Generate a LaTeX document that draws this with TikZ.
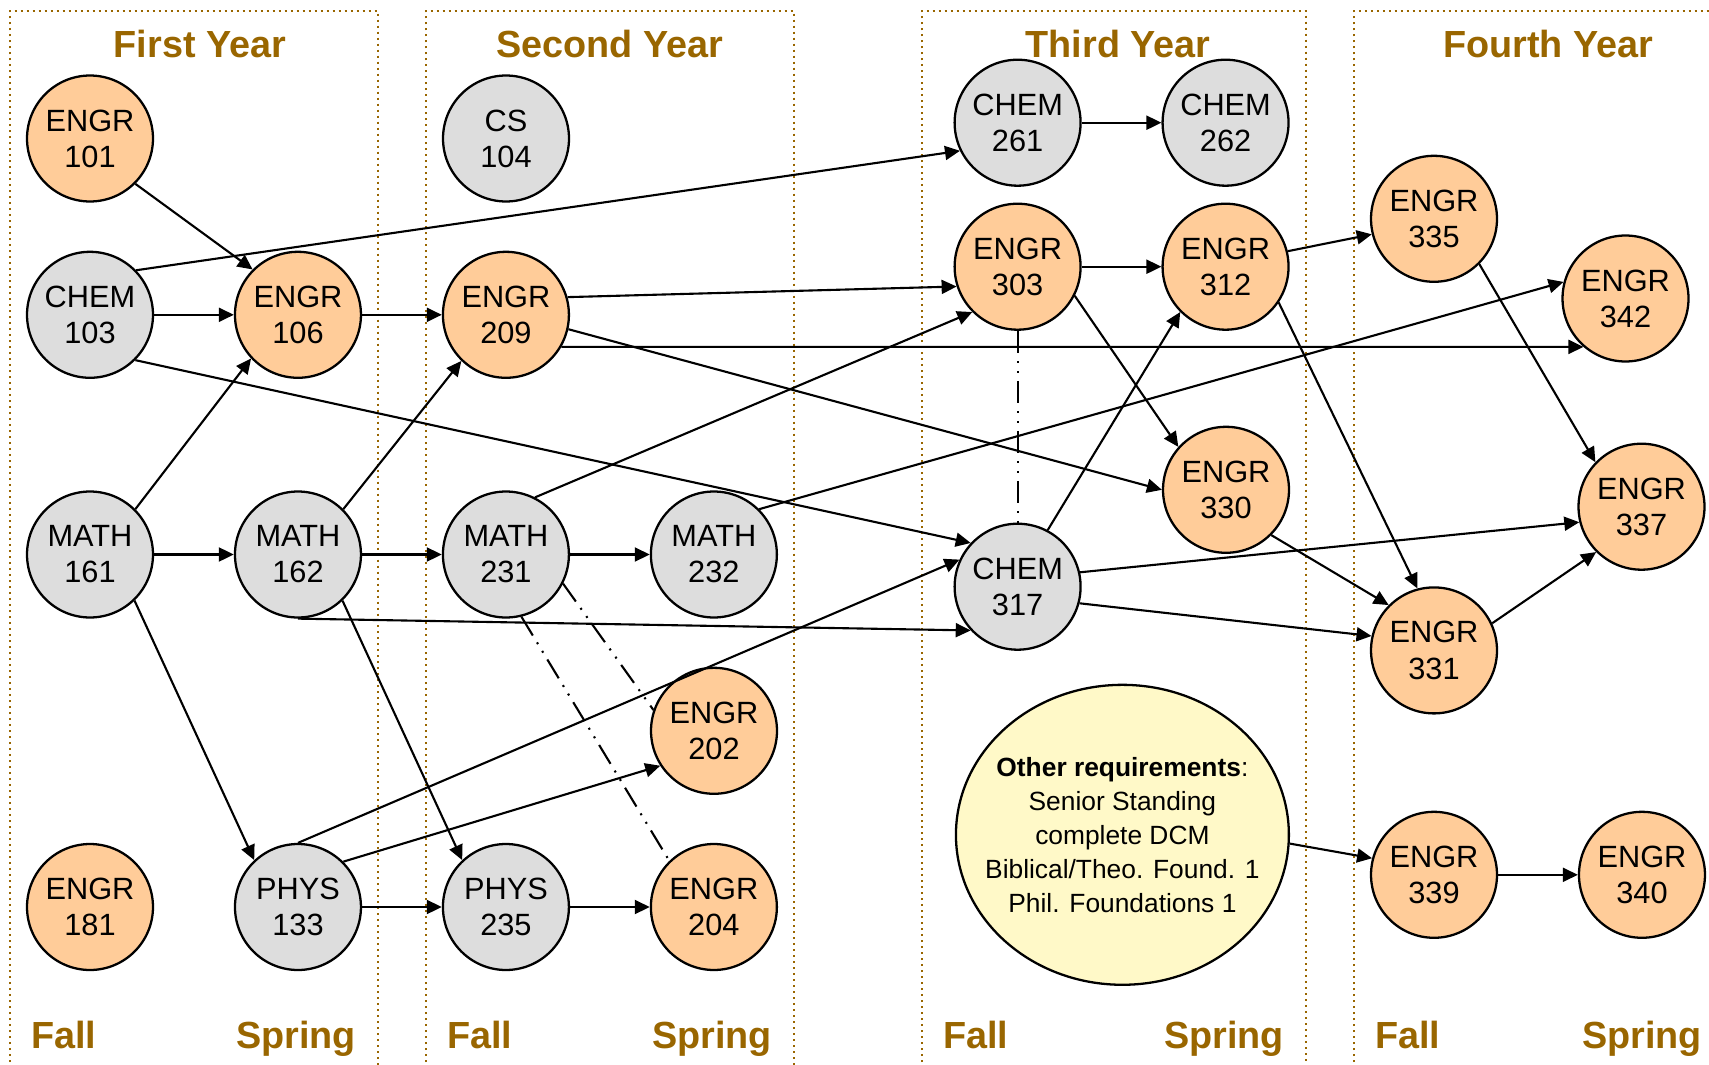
\documentclass[tikz,border=0pt]{standalone}
\usepackage{fontspec}
\setmainfont{Liberation Sans}
\usetikzlibrary{arrows.meta, shapes.geometric, backgrounds}
\definecolor{course orange}{HTML}{FFCC99}
\definecolor{course grey}{HTML}{DDDDDD}
\definecolor{note yellow}{HTML}{FFF9C8}
\definecolor{year brown}{HTML}{996600}
\tikzset{
    % node styles
    course/.style = {circle, minimum size=2.52cm, inner sep=0pt, line width=1.3pt, draw=black, fill=course orange, align=center, font=\fontsize{17.5}{20.5}\selectfont},
    grey course/.style = {course, fill=course grey},
    note/.style = {ellipse, minimum width=6.66cm, minimum height=6cm, inner xsep=-0.6cm, inner ysep=0pt, line width=1.3pt, draw=black, fill=note yellow, align=center, font=\fontsize{15}{19.4}\selectfont},
    % arrow style
    pre/.style = {<-, line width=1.2pt, >={Triangle[length=0.3cm, width=0.28cm]}},
    post/.style = {->, line width=1.2pt, >={Triangle[length=0.3cm, width=0.28cm]}},
    link/.style = {line width=1.2pt, dash pattern=on 0.44cm off 0.16cm on 0.04cm off 0.16cm on 0.04cm off 0.16cm},
    % label style
    year/.style = {text=year brown, font=\fontsize{21.5}{26}\selectfont\bfseries},
    year box/.style = {draw=year brown, line width=0.04cm, dash pattern=on 0.04cm off 0.08cm}
}

\begin{document}
\begin{tikzpicture}[x=0.02cm, y=-0.02cm, node distance=4.16cm]
        \useasboundingbox (0,0) rectangle (1709,1064);

        % first and second year
        \node[course] (engr101) at (90,138.5) {ENGR\\101};
        \node[grey course] (cs104) at (506,138.5) {CS\\104};
        \node[grey course] (chem103) at (90,314.8) {CHEM\\103};
        \node[course] (engr106) [right of=chem103] {ENGR\\106}
            edge[pre] (chem103);
        \node[course] (engr209) [right of=engr106] {ENGR\\209}
            edge[pre] (engr106);
        \node[grey course] (math161) at (90,554.5) {MATH\\161};
        \node[grey course] (math162) [right of=math161] {MATH\\162}
            edge[pre] (math161);
        \node[grey course] (math231) [right of=math162] {MATH\\231}
            edge[pre] (math162);
        \node[grey course] (math232) [right of=math231] {MATH\\232}
            edge[pre] (math231);
        \node[course] (engr202) at (714,730.8) {ENGR\\202};
        \node[course] (engr181) at (90,907) {ENGR\\181};
        \node[grey course] (phys133) [right of=engr181] {PHYS\\133};
        \node[grey course] (phys235) [right of=phys133] {PHYS\\235}
            edge[pre] (phys133);
        \node[course] (engr204) [right of=phys235] {ENGR\\204}
            edge[pre] (phys235);

        % third year
        \node[grey course] (chem261) at (1017.6,122.7) {CHEM\\261};
        \node[grey course] (chem262) [right of=chem261] {CHEM\\262}
            edge[pre] (chem261);
        \node[course] (engr303) at (1017.6,266.7) {ENGR\\303};
        \node[course] (engr312) [right of=engr303] {ENGR\\312}
            edge[pre] (engr303);
        \node[course] (engr330) at (1226,489.8) {ENGR\\330};
        \node[grey course] (chem317) at (1017.6,586.7) {CHEM\\317};
        \node[note] (other) at (1122.4,834.8) {\textbf{Other requirements}:\\Senior Standing\\complete DCM\\Biblical/Theo. Found. 1\\Phil. Foundations 1};

        % fourth year
        \node[course] (engr335) at (1434,218.8) {ENGR\\335};
        \node[course] (engr342) at (1625.5,298.5) {ENGR\\342};
        \node[course] (engr337) at (1641.5,506.7) {ENGR\\337};
        \node[course] (engr331) at (1434,650.4) {ENGR\\331};
        \node[course] (engr339) at (1434,874.8) {ENGR\\339};
        \node[course] (engr340) [right of=engr339] {ENGR\\340}
            edge[pre] (engr339);

        % prerequisites
        \draw[post] (engr101.-45) -- (engr106.135);
        \draw[post] (chem103.44) -- (chem261.206);
        \draw[post] (chem103.-45) -- (chem317.137);
        \draw[post] (math161.45) -- (engr106.223);
        \draw[post] (math161.-46) -- (phys133.133);
        \draw[post] (math162.45) -- (engr209.226);
        \draw[post] (math162.-46) -- (phys235.133);
        \draw[post] (math162.south) -- (chem317.223);
        \draw[post] (engr209.16) -- (engr303.198);
        \draw[post] (engr209.-13) -- (engr330.west);
        \draw[post] (engr209.-30) -- (engr342.229);
        \draw[post] (math231.63) -- (engr303.225);
        \draw[post] (math232.45) -- (engr342.165);
        \draw[post] (phys133.north) -- (chem317.155);
        \draw[post] (phys133.45) -- (engr202.213);
        \draw[post] (engr303.-27) -- (engr330.138);
        \draw[post] (chem317.62) -- (engr312.225);
        \draw[post] (chem317.13) -- (engr337.194);
        \draw[post] (chem317.-15) -- (engr331.167);
        \draw[post] (engr312.14) -- (engr335.194);
        \draw[post] (engr312.-34) -- (engr331.105);
        \draw[post] (engr335.-45) -- (engr337.136);
        \draw[post] (engr330.-45) -- (engr331.135);
        \draw[post] (engr331.25) -- (engr337.225);
        \draw[post] (other.-3) -- (engr339.165);

        % corequisites
        \draw[link] (math231.-27) -- (engr202.161);
        \draw[link] (math231.-76) -- (engr204.134);
        \draw[link] (engr303.south) -- (chem317.north);

        % year titles and terms
        \node[year, anchor=base] (first) at (200,57.3) {First Year};
        \node[year, anchor=base] (second) at (610,57.3) {Second Year};
        \node[year, anchor=base] (third) at (1118,57.3) {Third Year};
        \node[year, anchor=base] (fourth) at (1548,57.3) {Fourth Year};
        \foreach \l/\r [count=\i] in {10/378, 426/794, 922/1306, 1354/1724} {
            \node[year, anchor=base west, inner sep=0pt] (fall\i) at (\l+20.7,1048.3) {Fall};
            \node[year, anchor=base east, inner sep=0pt] (spring\i) at (\r-22,1048.3) {Spring};
        }

        % draw year boxes
        \begin{pgfonlayer}{background}
            \foreach \l/\r in {10/378, 426/794, 922/1306, 1354/1724}
                \draw[year box] (\l,1080) -- (\l,11) -- (\r,11) -- (\r,1080);
        \end{pgfonlayer}

    \end{tikzpicture}
\end{document}
